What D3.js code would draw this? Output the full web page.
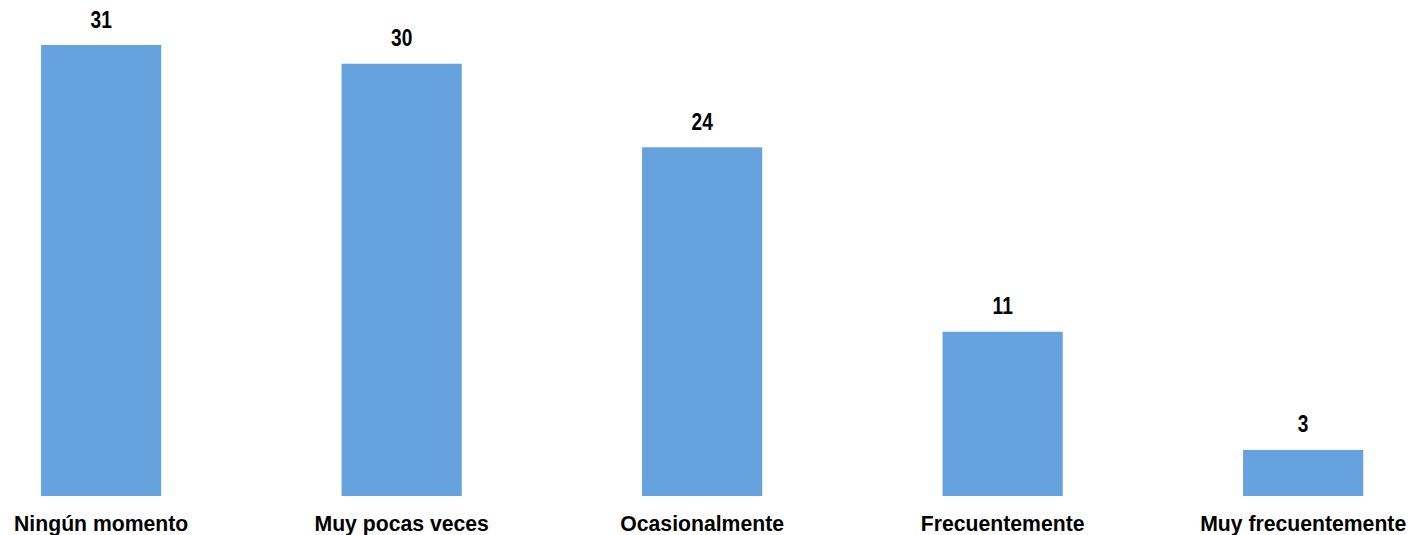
<!DOCTYPE html>
<html>
<head>
<meta charset="utf-8">
<script src="https://cdn.jsdelivr.net/npm/d3@7"></script>
<style>
  html, body { margin: 0; padding: 0; background: #ffffff; }
  svg { display: block; }
</style>
</head>
<body>
<svg id="chart" width="1409" height="535"></svg>
<script>
const categories = ["Ningún momento", "Muy pocas veces", "Ocasionalmente", "Frecuentemente", "Muy frecuentemente"];
const values = [31.3, 30.0, 24.2, 11.4, 3.2];

const svg = d3.select("#chart");
const baseline = 496;

const x = d3.scaleBand()
  .domain(categories)
  .range([11, 1393.3])
  .paddingInner(0.6)
  .paddingOuter(0.1);

const y = d3.scaleLinear()
  .domain([0, d3.max(values)])
  .range([baseline, 45]);

const data = categories.map((c, i) => ({ c, v: values[i] }));

svg.append("g").selectAll("rect")
  .data(data)
  .join("rect")
  .attr("x", d => x(d.c))
  .attr("y", d => y(d.v))
  .attr("width", x.bandwidth())
  .attr("height", d => baseline - y(d.v))
  .attr("fill", "#66a2de");

svg.append("g").selectAll("text")
  .data(data)
  .join("text")
  .attr("transform", d => `translate(${x(d.c) + x.bandwidth() / 2},${y(d.v) - 17.5}) scale(0.78,1)`)
  .attr("text-anchor", "middle")
  .style("font-family", "'Liberation Sans', Arial, sans-serif")
  .style("font-weight", "bold")
  .style("font-size", "24.5px")
  .attr("fill", "#000")
  .text(d => d3.format(".0f")(d.v));

const xAxis = d3.axisBottom(x).tickSize(0).tickPadding(0);
const ax = svg.append("g")
  .attr("transform", `translate(0,${baseline})`)
  .call(xAxis);
ax.select(".domain").remove();
ax.selectAll("text")
  .attr("dy", null)
  .attr("y", 35)
  .style("font-family", "'Liberation Sans', Arial, sans-serif")
  .style("font-weight", "bold")
  .style("font-size", "21.2px")
  .attr("fill", "#000");
</script>
</body>
</html>
